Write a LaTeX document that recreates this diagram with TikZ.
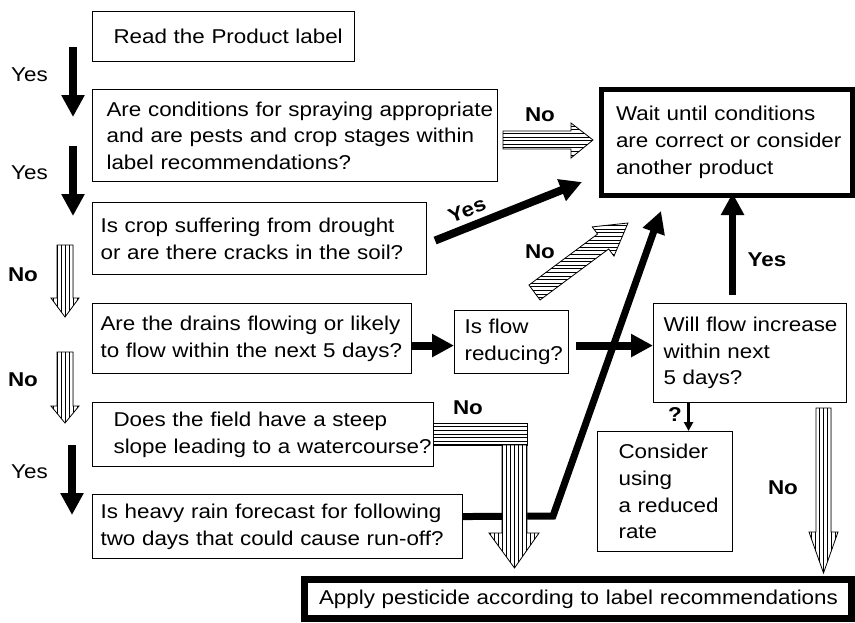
\documentclass[tikz,border=0pt]{standalone}
\usepackage{fontspec}
\setmainfont{Liberation Sans}[FakeStretch=1.12]
\usetikzlibrary{arrows.meta, calc}

\begin{document}
\begin{tikzpicture}[x=1pt, y=-1pt,
    font=\fontsize{20}{26.7}\selectfont,
    qbox/.style={draw, line width=1.1pt, anchor=north west, align=left, inner ysep=0pt,
      execute at begin node={\rightskip=0pt minus 80pt\relax}},
    endbox/.style={qbox, line width=#1},
    blk/.style={line width=8pt, -{Triangle[length=22pt, width=22pt]}},
    qarrow/.style={line width=2.5pt, -{Triangle[length=9pt, width=9pt]}},
    % striped block arrows: white fill, stripes clipped to the outline
    hatchv/.style={draw, line width=0.8pt, fill=white,
      path picture={\foreach \s in {-40,-36,...,40}
        \draw[line width=0.7pt] ([xshift=\s pt]path picture bounding box.north)
          -- ([xshift=\s pt]path picture bounding box.south);}},
    hatchh/.style={draw, line width=0.8pt, fill=white,
      path picture={\foreach \s in {-39.6,-36,...,39.7}
        \draw[line width=0.7pt] ([yshift=\s pt]path picture bounding box.west)
          -- ([yshift=\s pt]path picture bounding box.east);}},
    yeslbl/.style={inner sep=0pt},
    nolbl/.style={inner sep=0pt, font=\fontsize{20}{26.7}\selectfont\bfseries}]

    \useasboundingbox (0,0) rectangle (855,622);

    % --- question boxes ---
    \node[qbox, text width=220pt, inner xsep=21pt, minimum height=50pt] (read) at (92,11) {Read the Product label};
    \node[qbox, text width=377pt, inner xsep=14pt, minimum height=92pt] (spray) at (92,89)
      {Are conditions for spraying appropriate\\and are pests and crop stages within\\label recommendations?};
    \node[qbox, text width=318pt, inner xsep=8pt, minimum height=72pt] (drought) at (92,202)
      {Is crop suffering from drought\\or are there cracks in the soil?};
    \node[qbox, text width=303pt, inner xsep=8pt, minimum height=70pt] (drains) at (92,303)
      {Are the drains flowing or likely\\to flow within the next 5 days?};
    \node[qbox, text width=299pt, inner xsep=21pt, minimum height=64pt] (slope) at (92,402)
      {Does the field have a steep\\slope leading to a watercourse?};
    \node[qbox, text width=354pt, inner xsep=8pt, minimum height=64pt] (rain) at (92,494)
      {Is heavy rain forecast for following\\two days that could cause run-off?};
    \node[qbox, text width=94pt, inner xsep=10pt, minimum height=63pt] (flow) at (454,310)
      {Is flow\\reducing?};
    \node[qbox, text width=173pt, inner xsep=10pt, minimum height=99pt] (increase) at (653,303)
      {Will flow increase\\within next\\5 days?};
    \node[qbox, text width=93pt, inner xsep=21pt, minimum height=120pt] (reduced) at (597,431)
      {Consider\\using\\a reduced\\rate};

    % --- outcome boxes ---
    \node[endbox=5pt, text width=221.5pt, inner xsep=14.5pt, minimum height=106.5pt] (wait) at (599,86.5)
      {Wait until conditions\\are correct or consider\\another product};
    \node[endbox=7pt, text width=517.5pt, inner xsep=14.5pt, minimum height=39pt] (apply) at (301,576)
      {Apply pesticide according to label recommendations};

    % --- solid arrows ---
    \coordinate (ya) at (73,47);
    \coordinate (yb) at (73,117);
    \coordinate (yc) at (73,146);
    \coordinate (yd) at (73,216);
    \coordinate (ye) at (72,445);
    \coordinate (yf) at (72,515);
    \coordinate (yestip) at (582,182);
    \coordinate (bend) at (553,516);
    \coordinate (longtip) at (661,211);
    \coordinate (flowin) at ([yshift=-3.5pt]flow.west);
    \coordinate (flowout) at ([xshift=7pt, yshift=-3.5pt]flow.east);

    \draw[blk] (ya) -- (yb);
    \draw[blk] (yc) -- (yd);
    \draw[blk] (ye) -- (yf);
    \draw[blk] ([xshift=8pt, yshift=-2pt]drought.east) -- (yestip);
    \draw[blk] (drains.east |- flowin) -- (flowin);
    \draw[blk] (flowout) -- (increase.west |- flowout);
    \draw[blk, line width=7pt] ([yshift=10pt]rain.east) -- (bend) -- (longtip);
    \draw[blk, line width=7pt] ([xshift=-17.5pt, yshift=8pt]increase.north)
      -- ([xshift=-17.5pt, yshift=5pt]increase.north |- wait.south);
    \draw[qarrow] ([xshift=-61.5pt]increase.south) -- ([xshift=-61.5pt]increase.south |- reduced.north);

    % --- striped arrows ---
    \path[hatchv] (57,245) -- (73,245) -- (73,298) -- (79,298) -- (65,317) -- (51,298) -- (57,298) -- cycle;
    \path[hatchv] (57,352) -- (73,352) -- (73,406) -- (79,406) -- (65,423) -- (51,406) -- (57,406) -- cycle;
    \path[hatchv] (816,408) -- (831,408) -- (831,532) -- (838,532) -- (823.5,573) -- (809,532) -- (816,532) -- cycle;
    \path[hatchh] (503,131) -- (571,131) -- (571,123) -- (593,140) -- (571,158) -- (571,149) -- (503,149) -- cycle;
    \path[hatchh] (433,423) rectangle (527,445);
    \path[hatchv] (502,445) -- (527,445) -- (527,533) -- (539,533) -- (514.5,568) -- (489,533) -- (502,533) -- cycle;
    \path[hatchh] (528.95,285.04) -- (597.57,234.03) -- (592.26,226.88) -- (628,223)
      -- (613.98,256.10) -- (608.67,248.95) -- (540.05,299.96) -- cycle;

    % --- labels ---
    \node[yeslbl] (yes1) at (29.5,75) {Yes};
    \node[yeslbl] (yes2) at (29.5,173) {Yes};
    \node[nolbl] (no1) at (23,275) {No};
    \node[nolbl] (no2) at (23,380) {No};
    \node[yeslbl] (yes3) at (29.5,472) {Yes};
    \node[nolbl] (no3) at (540,115) {No};
    \node[nolbl, rotate=21] (yes4) at (467,210) {Yes};
    \node[nolbl] (no4) at (540,252) {No};
    \node[nolbl] (no5) at (468,408) {No};
    \node[nolbl] (yes5) at (767,260) {Yes};
    \node[nolbl] (qmark) at (675,415) {?};
    \node[nolbl] (no6) at (783,488) {No};

\end{tikzpicture}
\end{document}
